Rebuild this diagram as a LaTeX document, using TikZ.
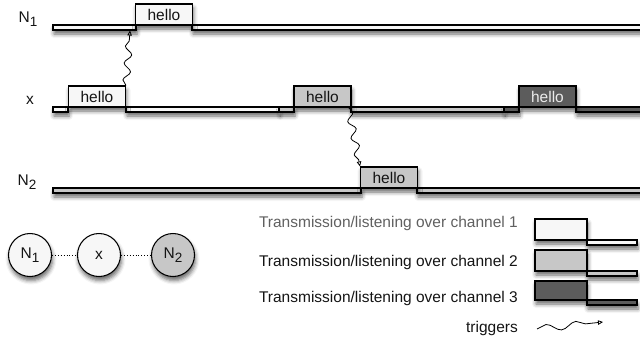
\documentclass[tikz,border=0pt]{standalone}
\usepackage{fontspec}
\setmainfont{Liberation Sans}
\usetikzlibrary{arrows.meta,decorations.pathmorphing,shadows.blur}
\definecolor{chA}{gray}{0.97}
\definecolor{chB}{gray}{0.78}
\definecolor{chC}{gray}{0.36}
\definecolor{txt}{gray}{0.08}
\newcommand\subn[1]{\raisebox{-0.5ex}{\fontsize{13.5}{13.5}\selectfont #1}}
\tikzset{
  shad/.style={blur shadow={shadow xshift=1pt, shadow yshift=-4pt, shadow blur radius=4pt, shadow opacity=60}},
  bar/.style={draw, line width=1.05pt, shad},
  msg/.style={draw, line width=1.05pt, minimum width=57pt, minimum height=21pt, inner sep=0pt,
    font=\fontsize{15.5}{15.5}\selectfont, text=txt, shad},
  lbl/.style={font=\fontsize{15.5}{15.5}\selectfont, text=txt, inner sep=0pt},
  circ/.style={circle, draw, line width=1.05pt, minimum size=43pt, inner sep=0pt,
    font=\fontsize{15.5}{15.5}\selectfont, text=txt, shad},
  trig/.style={-{Triangle[open,length=5pt,width=4.5pt]}, line width=0.8pt, decorate,
    decoration={snake, segment length=17pt, amplitude=3.5pt, post length=5pt}},
}
\begin{document}
\begin{tikzpicture}[x=1pt,y=-1pt]
\useasboundingbox (0,0) rectangle (640,341);
% ---- row labels
\node[lbl] (lN1) at (28,19) {N\subn{1}};
\node[lbl] (lX) at (30,100) {x};
\node[lbl] (lN2) at (27,182) {N\subn{2}};
% ---- N1 timeline
\draw[bar, fill=chA] (53,25) rectangle (136,30);
\draw[bar, fill=chA] (192,25) rectangle (645,30);
\node[msg, fill=chA] (hN1) at (164,14.5) {hello};
% ---- x timeline
\draw[bar, fill=chA] (53,107) rectangle (68,112);
\draw[bar, fill=chA] (126,107) rectangle (279,112);
\draw[bar, fill=chB] (279,107) rectangle (294,112);
\draw[bar, fill=chB] (351,107) rectangle (504,112);
\draw[bar, fill=chC] (504,107) rectangle (519,112);
\draw[bar, fill=chC] (576,107) rectangle (645,112);
\node[msg, fill=chA] (hX1) at (97,96.5) {hello};
\node[msg, fill=chB] (hX2) at (322.5,96.5) {hello};
\node[msg, fill=chC, text=white!92!black] (hX3) at (547.5,96.5) {hello};
% ---- N2 timeline
\draw[bar, fill=chB] (53,188) rectangle (361,193);
\draw[bar, fill=chB] (417,188) rectangle (645,193);
\node[msg, fill=chB] (hN2) at (389,177.5) {hello};
% ---- triggers
\coordinate (tN1) at (130,30.5);
\draw[trig] (hX1.north east) -- (tN1);
\draw[trig] ([xshift=-3pt]hX2.south east) -- (hN2.north west);
% ---- topology
\node[circ, fill=chA] (cN1) at (30,255) {N\subn{1}};
\node[circ, fill=chA] (cX) at (99,255) {x};
\node[circ, fill=chB] (cN2) at (173,255) {N\subn{2}};
\draw[dotted, line width=0.9pt] (cN1) -- (cX);
\draw[dotted, line width=0.9pt] (cX) -- (cN2);
% ---- legend
\node[lbl, anchor=east, text=gray!75!black] (lg1) at (518,223) {Transmission/listening over channel 1};
\node[lbl, anchor=east] (lg2) at (518,262) {Transmission/listening over channel 2};
\node[lbl, anchor=east] (lg3) at (518,298) {Transmission/listening over channel 3};
\node[lbl, anchor=east] (lg4) at (518,328) {triggers};
\draw[bar, fill=chA] (535,219) rectangle (587,240);
\draw[bar, fill=chA] (587,240) rectangle (637,245);
\draw[bar, fill=chB] (535,250) rectangle (587,271);
\draw[bar, fill=chB] (587,271) rectangle (637,276);
\draw[bar, fill=chC] (535,281) rectangle (587,300);
\draw[bar, fill=chC] (587,300) rectangle (637,305);
\coordinate (trA) at (537,329);
\coordinate (trB) at (603,322);
\draw[trig, decoration={snake, segment length=30pt, amplitude=3.5pt, post length=6pt}] (trA) -- (trB);
\end{tikzpicture}
\end{document}
